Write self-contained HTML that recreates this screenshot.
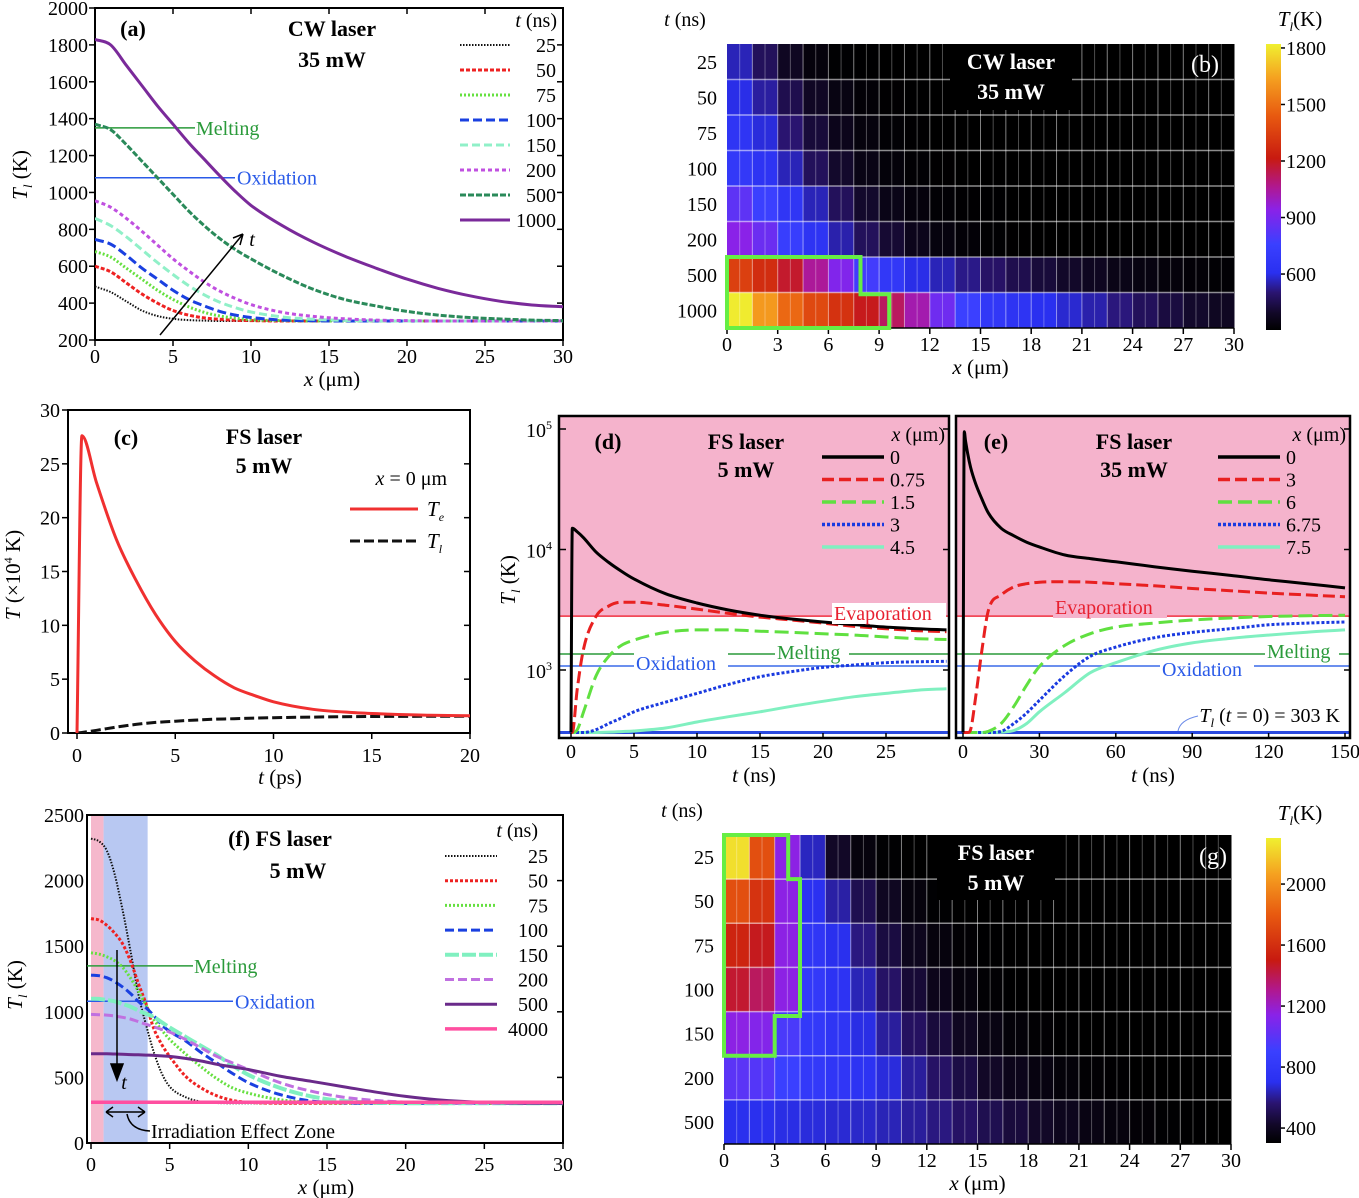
<!DOCTYPE html>
<html><head><meta charset="utf-8"><style>
html,body{margin:0;padding:0;background:#fff;}
svg{display:block;font-family:"Liberation Serif",serif;}
</style></head><body>
<svg id="fig" width="1359" height="1198" viewBox="0 0 1359 1198" xmlns="http://www.w3.org/2000/svg">
<defs>
<linearGradient id="cbar" x1="0" y1="1" x2="0" y2="0">
<stop offset="0" stop-color="#000000"/><stop offset="0.06" stop-color="#120828"/><stop offset="0.13" stop-color="#2a1470"/><stop offset="0.2" stop-color="#2a30f0"/><stop offset="0.3" stop-color="#3a40ff"/><stop offset="0.42" stop-color="#8a22e8"/><stop offset="0.5" stop-color="#b01890"/><stop offset="0.6" stop-color="#c81a10"/><stop offset="0.75" stop-color="#e85a10"/><stop offset="0.88" stop-color="#f5a020"/><stop offset="1" stop-color="#f0f030"/>
</linearGradient>
<clipPath id="clipA"><rect x="95" y="8" width="468" height="332"/></clipPath>
<clipPath id="clipC"><rect x="68" y="410" width="402" height="323"/></clipPath>
<clipPath id="clipD"><rect x="559" y="416" width="390" height="322"/></clipPath>
<clipPath id="clipE"><rect x="956" y="416" width="394" height="322"/></clipPath>
<clipPath id="clipF"><rect x="87" y="815" width="476" height="328"/></clipPath>
</defs>
<rect x="0" y="0" width="1359" height="1198" fill="#fff"/>
<g id="gA"></g>
<g id="gB"></g>
<g id="gC"></g>
<g id="gD"></g>
<g id="gE"></g>
<g id="gF"></g>
<g id="gG"></g>
</svg>
<script>
// ---------- DATA ----------
// Panel (a)
const aX=[0,1,2,3,4,5,6,7,8,9,10,12,14,16,18,20,22,24,26,28,30];
const aTimes=['25','50','75','100','150','200','500','1000'];
const a25=[490,460,410,360,330,315,308,305,303,303,303,303,303,303,303,303,303,303,303,303,303];
const a50=[600,570,510,450,400,360,335,320,312,307,305,303,303,303,303,303,303,303,303,303,303];
const a75=[680,650,590,530,470,420,380,350,330,318,310,305,303,303,303,303,303,303,303,303,303];
const a100=[745,720,660,590,530,470,420,385,355,335,322,308,304,303,303,303,303,303,303,303,303];
const a150=[860,820,760,690,620,555,495,445,405,375,352,325,312,306,304,303,303,303,303,303,303];
const a200=[955,920,860,790,715,640,575,515,465,425,392,350,328,315,308,305,303,303,303,303,303];
const a500=[1370,1340,1260,1170,1080,990,900,820,750,690,640,550,475,420,385,355,335,322,314,308,305];
const a1000=[1830,1800,1690,1580,1470,1370,1270,1180,1090,1005,930,820,730,655,590,530,480,440,410,390,380];
const aYTicks=[200,400,600,800,1000,1200,1400,1600,1800,2000];
const aXTicks=[0,5,10,15,20,25,30];
// Panel (b) heatmap: 20 cells per row (1.5 um wide)
const bRowsLabels=['25','50','75','100','150','200','500','1000'];
const b25=[560,470,380,330,310,305,303,303,303,303,303,303,303,303,303,303,303,303,303,303];
const b50=[600,540,450,385,345,320,308,305,303,303,303,303,303,303,303,303,303,303,303,303];
const b75=[650,590,500,420,365,332,314,307,304,303,303,303,303,303,303,303,303,303,303,303];
const b100=[690,640,560,470,400,350,325,312,306,304,303,303,303,303,303,303,303,303,303,303];
const b150=[840,760,660,560,470,400,355,330,315,308,305,303,303,303,303,303,303,303,303,303];
const b200=[940,870,740,640,550,470,410,365,335,320,310,306,304,303,303,303,303,303,303,303];
const b500=[1350,1280,1180,1050,920,780,680,600,560,520,485,450,420,395,375,355,340,328,320,314];
const b1000=[1810,1620,1480,1380,1300,1200,1120,1020,880,760,680,640,610,580,550,510,470,430,400,380];
const bXTicks=[0,3,6,9,12,15,18,21,24,27,30];
const bCbarTicks=[600,900,1200,1500,1800];
// Panel (c)
const cT=[0,0.25,1,2,3,4,5,6,7,8,9,10,12,14,16,18,20];
const cTe=[0,27.6,23.2,18.0,14.2,11.0,8.5,6.7,5.3,4.2,3.5,2.9,2.2,1.9,1.75,1.65,1.6];
const cTl=[0,0.05,0.25,0.55,0.8,0.98,1.1,1.2,1.28,1.33,1.38,1.42,1.48,1.52,1.54,1.55,1.55];
const cYTicks=[0,5,10,15,20,25,30];
const cXTicks=[0,5,10,15,20];
// Panel (d)
const dT=[0,0.1,0.5,1,2,3,4,5,7.5,10,12.5,15,17.5,20,22.5,25,27.5,29.8];
const d0=[303,15000,14000,12500,9500,7800,6600,5700,4300,3600,3150,2850,2650,2500,2380,2270,2200,2150];
const d075=[303,303,700,1500,2800,3400,3650,3650,3450,3200,2950,2750,2600,2450,2300,2200,2120,2080];
const d15=[303,303,320,450,900,1300,1600,1770,2050,2150,2150,2100,2050,2000,1950,1880,1820,1790];
const d3=[303,303,303,303,320,360,400,450,540,640,760,880,970,1050,1100,1150,1170,1180];
const d45=[303,303,303,303,303,305,308,312,330,370,410,450,500,550,600,640,680,700];
const dXTicks=[0,5,10,15,20,25];
// Panel (e)
const eT=[0,0.5,1,2,3,5,7.5,10,15,20,25,30,40,50,60,75,90,105,120,135,150];
const e0=[303,95000,80000,60000,48000,35000,26000,20000,15000,13000,11500,10500,9000,8400,7900,7200,6600,6100,5600,5200,4800];
const e3=[303,303,303,303,320,600,1500,3150,4200,4900,5200,5350,5400,5350,5200,5000,4750,4550,4350,4200,4050];
const e6=[303,303,303,303,303,303,303,310,360,500,750,1070,1600,2000,2270,2450,2600,2700,2780,2820,2850];
const e675=[303,303,303,303,303,303,303,303,310,360,440,560,900,1300,1550,1850,2050,2200,2370,2450,2500];
const e75=[303,303,303,303,303,303,303,303,305,315,360,450,650,950,1150,1450,1680,1830,1950,2060,2150];
const eXTicks=[0,30,60,90,120,150];
// thresholds (K)
const tEvap=2800, tMelt=1358, tOx=1080, tInit=303;
// Panel (f)
const fX=[0,0.5,1,1.5,2,2.5,3,3.5,4,4.5,5,6,7,8,9,10,12,14,16,18,20,22,25,28,30];
const f25=[2320,2300,2230,2050,1780,1470,1140,900,690,530,430,350,315,305,303,303,303,303,303,303,303,303,303,303,303];
const f50=[1710,1700,1660,1600,1520,1390,1220,1060,870,750,660,510,420,360,325,310,303,303,303,303,303,303,303,303,303];
const f75=[1450,1440,1420,1390,1340,1260,1160,1050,940,860,790,680,580,490,420,380,330,310,305,303,303,303,303,303,303];
const f100=[1280,1275,1260,1230,1190,1140,1080,1030,970,900,850,780,690,610,530,460,370,320,307,303,303,303,303,303,303];
const f150=[1100,1098,1090,1080,1060,1040,1010,985,960,920,880,810,740,670,590,520,420,355,320,308,303,303,303,303,303];
const f200=[980,978,975,968,958,945,925,905,885,865,845,790,725,660,610,560,460,395,350,325,312,305,303,303,303];
const f500=[680,680,680,678,676,674,672,670,668,664,660,645,625,600,580,560,510,470,430,390,355,330,310,304,303];
const f4000=[310,310,310,310,310,310,310,310,310,310,310,310,310,310,310,310,310,310,310,310,310,310,310,310,310];
const fYTicks=[0,500,1000,1500,2000,2500];
const fXTicks=[0,5,10,15,20,25,30];
// Panel (g) heatmap
const gRowsLabels=['25','50','75','100','150','200','500'];
const g25=[2250,1750,1150,650,420,340,310,303,303,303,303,303,303,303,303,303,303,303,303,303];
const g50=[1750,1620,1150,720,620,500,400,340,310,303,303,303,303,303,303,303,303,303,303,303];
const g75=[1550,1480,1150,780,700,580,470,390,340,315,305,303,303,303,303,303,303,303,303,303];
const g100=[1450,1380,1150,820,740,640,540,450,380,340,315,305,303,303,303,303,303,303,303,303];
const g150=[1150,1120,950,820,760,690,610,530,460,400,360,330,315,305,303,303,303,303,303,303];
const g200=[1000,980,900,820,780,740,680,610,540,480,420,380,350,330,315,308,303,303,303,303];
const g500=[700,700,690,680,670,660,640,610,580,540,500,460,420,390,360,340,320,310,305,303];
const gXTicks=[0,3,6,9,12,15,18,21,24,27,30];
const gCbarTicks=[400,800,1200,1600,2000];

// ---------- HELPERS ----------
const NS='http://www.w3.org/2000/svg';
function mk(tag,parent){const e=document.createElementNS(NS,tag);parent.appendChild(e);return e;}
function attrs(e,o){for(const k in o)e.setAttribute(k,o[k]);return e;}
function text(parent,x,y,s,size,anchor,fill,weight,style){
  const t=mk('text',parent);
  attrs(t,{x:x,y:y,'font-size':size,'text-anchor':anchor||'middle',fill:fill||'#000','font-weight':weight||'normal','font-style':style||'normal'});
  t.innerHTML=s;return t;
}
// monotone cubic interpolation path in pixel space
function pathD(xs,ys,sx,sy){
  const P=xs.map((x,i)=>[sx(x),sy(ys[i])]);const n=P.length;
  if(n<3){return 'M'+P.map(p=>p[0].toFixed(1)+' '+p[1].toFixed(1)).join('L');}
  const d=[],m=new Array(n);
  for(let i=0;i<n-1;i++)d.push((P[i+1][1]-P[i][1])/(P[i+1][0]-P[i][0]||1e-6));
  m[0]=d[0];m[n-1]=d[n-2];
  for(let i=1;i<n-1;i++){m[i]=(d[i-1]*d[i]<=0)?0:(d[i-1]+d[i])/2;}
  for(let i=0;i<n-1;i++){if(d[i]===0){m[i]=0;m[i+1]=0;continue;}const a=m[i]/d[i],b=m[i+1]/d[i];const s=a*a+b*b;if(s>9){const t=3/Math.sqrt(s);m[i]=t*a*d[i];m[i+1]=t*b*d[i];}}
  let s='M'+P[0][0].toFixed(1)+' '+P[0][1].toFixed(1);
  for(let i=0;i<n-1;i++){const h=(P[i+1][0]-P[i][0])/3;
    s+='C'+(P[i][0]+h).toFixed(1)+' '+(P[i][1]+m[i]*h).toFixed(1)+' '+(P[i+1][0]-h).toFixed(1)+' '+(P[i+1][1]-m[i+1]*h).toFixed(1)+' '+P[i+1][0].toFixed(1)+' '+P[i+1][1].toFixed(1);}
  return s;
}
const stops=[[0,[0,0,0]],[0.06,[18,8,40]],[0.13,[42,20,112]],[0.2,[42,48,240]],[0.3,[58,64,255]],[0.42,[138,34,232]],[0.5,[176,24,144]],[0.6,[200,26,16]],[0.75,[232,90,16]],[0.88,[245,160,32]],[1,[240,240,48]]];
function cmap(f){f=Math.max(0,Math.min(1,f));for(let i=1;i<stops.length;i++){if(f<=stops[i][0]){const a=stops[i-1],b=stops[i];const u=(f-a[0])/(b[0]-a[0]);const c=a[1].map((v,k)=>Math.round(v+(b[1][k]-v)*u));return 'rgb('+c.join(',')+')';}}return 'rgb(240,240,48)';}

// ---------- PANEL A ----------
(function(){
const g=document.getElementById('gA');
const sx=x=>95+x*(563-95)/30, sy=v=>340-(v-200)*332/1800;
const fr=mk('rect',g);attrs(fr,{x:95,y:8,width:468,height:332,fill:'none',stroke:'#000','stroke-width':2});

aYTicks.forEach(v=>{const t=text(g,88,sy(v)+7,v,20,'end');
 const l=mk('line',g);attrs(l,{x1:95,x2:89,y1:sy(v),y2:sy(v),stroke:'#000','stroke-width':1.5});
 const r=mk('line',g);attrs(r,{x1:563,x2:557,y1:sy(v),y2:sy(v),stroke:'#000','stroke-width':1.5});});
aXTicks.forEach(v=>{const t=text(g,sx(v),363,v,20);
 const l=mk('line',g);attrs(l,{x1:sx(v),x2:sx(v),y1:340,y2:346,stroke:'#000','stroke-width':1.5});
 const u=mk('line',g);attrs(u,{x1:sx(v),x2:sx(v),y1:8,y2:14,stroke:'#000','stroke-width':1.5});});
let t=text(g,332,386,'<tspan font-style="italic">x</tspan> (μm)',21);
t=text(g,0,0,'<tspan font-style="italic">T</tspan><tspan font-size="13" dy="5" font-style="italic">l</tspan><tspan dy="-5"> (K)</tspan>',21);attrs(t,{transform:'translate(27,175) rotate(-90)'});
let l=mk('line',g);attrs(l,{x1:95,x2:195,y1:sy(1350),y2:sy(1350),stroke:'#2a9a3a','stroke-width':1.5});
t=text(g,196,sy(1350)+7,'Melting',20,'start','#2a9a3a');
l=mk('line',g);attrs(l,{x1:95,x2:235,y1:sy(1080),y2:sy(1080),stroke:'#2a5ae8','stroke-width':1.5});
t=text(g,237,sy(1080)+7,'Oxidation',20,'start','#2a5ae8');
const series=[a25,a50,a75,a100,a150,a200,a500,a1000];
const cols=['#111','#ee2222','#66e040','#1a40e0','#90f0c8','#c050e0','#2a8a5a','#7a2a9a'];
const dash=['1.5 1.5','4 2','2 2','9 4','8 4','4 3','6 2','none'];
const wid=[2,3,3,3,3,3,3,3];
const cg=mk('g',g);cg.setAttribute('clip-path','url(#clipA)');
series.forEach((s,i)=>{const p=mk('path',cg);attrs(p,{d:pathD(aX,s,sx,sy),fill:'none',stroke:cols[i],'stroke-width':wid[i],'stroke-dasharray':dash[i]});
 
 const yy=45+i*25;const ll=mk('line',g);attrs(ll,{x1:460,x2:510,y1:yy,y2:yy,stroke:cols[i],'stroke-width':wid[i],'stroke-dasharray':dash[i]});
 
 const lt=text(g,556,yy+7,aTimes[i],20,'end');});
t=text(g,557,27,'<tspan font-style="italic">t</tspan> (ns)',20,'end');
t=text(g,133,36,'(a)',22,'middle','#000','bold');
t=text(g,332,36,'CW laser',22,'middle','#000','bold');
t=text(g,332,67,'35 mW',22,'middle','#000','bold');
const ar=mk('path',g);attrs(ar,{d:'M160 335 L243 234 M243 234 L233 238 M243 234 L240 245',stroke:'#000','stroke-width':1.5,fill:'none'});
t=text(g,252,246,'t',20,'middle','#000','normal','italic');
})();

// ---------- HEATMAP helper ----------
function heat(gid,rows,labels,x0,x1,top,bot,tmin,tmax,xt,cbTicks,cbTop,cbBot,outline,boxX,boxW,boxTop,boxBot,t1,t2,plabel,plx,ply){
const g=document.getElementById(gid);
const sx=x=>x0+x*(x1-x0)/30;const rh=(bot-top)/rows.length;
rows.forEach((r,ri)=>{r.forEach((v,ci)=>{const c=mk('rect',g);attrs(c,{x:sx(ci*1.5),y:top+ri*rh,width:sx(1.5)-sx(0)+0.5,height:rh+0.5,fill:cmap((v-tmin)/(tmax-tmin))});
 });
 const lt=text(g,x0-10,top+ri*rh+rh/2+7,labels[ri],20,'end');});
for(let k=1;k<40;k++){const l=mk('line',g);attrs(l,{x1:sx(k*0.75),x2:sx(k*0.75),y1:top,y2:bot,stroke:'#fff','stroke-opacity':k%2?0.3:0.5,'stroke-width':1});}
for(let k=1;k<rows.length;k++){const l=mk('line',g);attrs(l,{x1:x0,x2:x1,y1:top+k*rh,y2:top+k*rh,stroke:'#fff','stroke-opacity':0.55,'stroke-width':1.5});}
xt.forEach(v=>{const tk=mk('line',g);attrs(tk,{x1:sx(v),x2:sx(v),y1:bot,y2:bot+6,stroke:'#000','stroke-width':1.5});
 const tl=text(g,sx(v),bot+23,v,20);});
const ax=mk('line',g);attrs(ax,{x1:x0,x2:x1,y1:bot,y2:bot,stroke:'#000','stroke-width':1.5});
let t=text(g,(x0+x1)/2,bot+46,'<tspan font-style="italic">x</tspan> (μm)',21);
t=text(g,x0-42,top-18,'<tspan font-style="italic">t</tspan> (ns)',20);
const bx=mk('rect',g);attrs(bx,{x:boxX,y:boxTop,width:boxW,height:boxBot-boxTop,fill:'#000'});
t=text(g,boxX+boxW/2,boxTop+25,t1,22,'middle','#fff','bold');
t=text(g,boxX+boxW/2,boxTop+55,t2,22,'middle','#fff','bold');
t=text(g,plx,ply,plabel,24,'middle','#fff');
const ol=mk('polygon',g);attrs(ol,{points:outline.map(p=>sx(p[0]).toFixed(1)+','+(top+p[1]*rh).toFixed(1)).join(' '),fill:'none',stroke:'#66ee44','stroke-width':4});
const cb=mk('rect',g);attrs(cb,{x:1266,y:cbTop,width:15,height:cbBot-cbTop,fill:'url(#cbar)'});
const cy=v=>cbBot-(v-tmin)/(tmax-tmin)*(cbBot-cbTop);
cbTicks.forEach(v=>{const tk=mk('line',g);attrs(tk,{x1:1281,x2:1285,y1:cy(v),y2:cy(v),stroke:'#000','stroke-width':1.5});
 const tl=text(g,1286,cy(v)+7,v,20,'start');});
t=text(g,1300,cbTop-18,'<tspan font-style="italic">T</tspan><tspan font-size="13" dy="5" font-style="italic">l</tspan><tspan dy="-5">(K)</tspan>',21);
}
heat('gB',[b25,b50,b75,b100,b150,b200,b500,b1000],bRowsLabels,727,1234,44,328,303,1821,bXTicks,bCbarTicks,44,330,
 [[0,6],[7.9,6],[7.9,7.05],[9.6,7.05],[9.6,8],[0,8]],950,122,44,110,'CW laser','35 mW','(b)',1205,72);
heat('gG',[g25,g50,g75,g100,g150,g200,g500],gRowsLabels,724,1231,835,1144,302,2302,gXTicks,gCbarTicks,838,1143,
 [[0,0],[3.8,0],[3.8,1],[4.5,1],[4.5,4.1],[3.0,4.1],[3.0,5],[0,5]],937,118,835,900,'FS laser','5 mW','(g)',1213,864);

// ---------- PANEL C ----------
(function(){
const g=document.getElementById('gC');
const sx=t=>77+t*(470-77)/20, sy=v=>733-v*(733-410)/30;
const fr=mk('rect',g);attrs(fr,{x:68,y:410,width:402,height:323,fill:'none',stroke:'#000','stroke-width':2});
cYTicks.forEach(v=>{const t=text(g,60,sy(v)+7,v,20,'end');
 const l=mk('line',g);attrs(l,{x1:68,x2:62,y1:sy(v),y2:sy(v),stroke:'#000','stroke-width':1.5});
 const r=mk('line',g);attrs(r,{x1:470,x2:464,y1:sy(v),y2:sy(v),stroke:'#000','stroke-width':1.5});});
cXTicks.forEach(v=>{const t=text(g,sx(v),762,v,20);
 const l=mk('line',g);attrs(l,{x1:sx(v),x2:sx(v),y1:733,y2:739,stroke:'#000','stroke-width':1.5});});
let t=text(g,280,784,'<tspan font-style="italic">t</tspan> (ps)',21);
t=text(g,0,0,'<tspan font-style="italic">T</tspan> (×10<tspan font-size="12" dy="-8">4</tspan><tspan dy="8"> K)</tspan>',21);attrs(t,{transform:'translate(20,575) rotate(-90)'});
const cg=mk('g',g);cg.setAttribute('clip-path','url(#clipC)');
let p=mk('path',cg);attrs(p,{d:pathD(cT,cTl,sx,sy),fill:'none',stroke:'#111','stroke-width':3,'stroke-dasharray':'10 4'});
p=mk('path',cg);attrs(p,{d:pathD(cT,cTe,sx,sy),fill:'none',stroke:'#f03030','stroke-width':3});
t=text(g,126,445,'(c)',22,'middle','#000','bold');
t=text(g,264,444,'FS laser',22,'middle','#000','bold');
t=text(g,264,473,'5 mW',22,'middle','#000','bold');
t=text(g,447,485,'<tspan font-style="italic">x</tspan> = 0 μm',20,'end');
let l=mk('line',g);attrs(l,{x1:350,x2:418,y1:509,y2:509,stroke:'#f03030','stroke-width':3});
l=mk('line',g);attrs(l,{x1:350,x2:418,y1:541,y2:541,stroke:'#111','stroke-width':3,'stroke-dasharray':'10 4'});
t=text(g,427,516,'<tspan font-style="italic">T</tspan><tspan font-size="12" dy="5" font-style="italic">e</tspan>',21,'start');
t=text(g,427,548,'<tspan font-style="italic">T</tspan><tspan font-size="12" dy="5" font-style="italic">l</tspan>',21,'start');
})();

// ---------- PANELS D & E ----------
const ly=v=>670-(Math.log10(v)-3)*120.5;
function logPanel(gid,clip,fl,frr,sx,ts,series,names,cols,dash,ticks,plabel,plx,title2,legX,labels,texts){
const g=document.getElementById(gid);
const pk=mk('rect',g);attrs(pk,{x:fl,y:416,width:frr-fl,height:ly(tEvap)-416,fill:'#f5b3cc'});
const cg=mk('g',g);cg.setAttribute('clip-path','url(#'+clip+')');
let l=mk('line',cg);attrs(l,{x1:fl,x2:frr,y1:ly(tEvap),y2:ly(tEvap),stroke:'#f03040','stroke-width':1.5});
l=mk('line',cg);attrs(l,{x1:fl,x2:frr,y1:ly(tMelt),y2:ly(tMelt),stroke:'#2a9a3a','stroke-width':1.5});
l=mk('line',cg);attrs(l,{x1:fl,x2:frr,y1:ly(tOx),y2:ly(tOx),stroke:'#3a6ae8','stroke-width':1.5});
texts.forEach(o=>{const bg=mk('rect',g);attrs(bg,{x:o.x-2,y:o.y-17,width:o.w,height:21,fill:o.bg});
 const tt=text(g,o.x,o.y,o.s,20,'start',o.c);});
l=mk('line',cg);attrs(l,{x1:fl,x2:frr,y1:ly(tInit),y2:ly(tInit),stroke:'#2a4ae0','stroke-width':3});
series.slice().reverse().forEach((s,ri)=>{const i=series.length-1-ri;const p=mk('path',cg);attrs(p,{d:pathD(ts,s,sx,ly),fill:'none',stroke:cols[i],'stroke-width':3,'stroke-dasharray':dash[i]});
 });
names.forEach((n,i)=>{const yy=457+i*22.5;const sw=mk('line',g);attrs(sw,{x1:legX,x2:legX+62,y1:yy,y2:yy,stroke:cols[i],'stroke-width':3.5,'stroke-dasharray':dash[i]});
 
 const lt=text(g,legX+68,yy+7,n,20,'start');});
let t=text(g,frr-4,441,'<tspan font-style="italic">x</tspan> (μm)',20,'end');
ticks.forEach(v=>{const tl=text(g,sx(v),758,v,20);
 const tk=mk('line',g);attrs(tk,{x1:sx(v),x2:sx(v),y1:738,y2:733,stroke:'#000','stroke-width':1.5});});
t=text(g,(fl+frr)/2,782,'<tspan font-style="italic">t</tspan> (ns)',21);
t=text(g,plx,449,plabel,22,'middle','#000','bold');
t=text(g,plx+138,449,'FS laser',22,'middle','#000','bold');
t=text(g,plx+138,477,title2,22,'middle','#000','bold');
[1e5,1e4,1e3].forEach(v=>{const tk=mk('line',g);attrs(tk,{x1:frr,x2:frr-6,y1:ly(v),y2:ly(v),stroke:'#000','stroke-width':1.5});});
const fr=mk('rect',g);attrs(fr,{x:fl,y:416,width:frr-fl,height:322,fill:'none',stroke:'#000','stroke-width':2.5});
}
logPanel('gD','clipD',559,949,t=>571+t*(886-571)/25,dT,[d0,d075,d15,d3,d45],['0','0.75','1.5','3','4.5'],
 ['#000','#e82020','#60e040','#1a3ae0','#80f0c0'],['none','12 5','14 6','3 2','none'],dXTicks,'(d)',608,'5 mW',822,[],
 [{x:834,y:620,s:'Evaporation',c:'#e82030',w:114,bg:'#fff',n:'evaporation-label'},{x:777,y:659,s:'Melting',c:'#2a9a3a',w:74,bg:'#fff',n:'melting-label'},{x:636,y:670,s:'Oxidation',c:'#2a5ae8',w:94,bg:'#fff',n:'oxidation-label'}]);
logPanel('gE','clipE',956,1350,t=>963+t*(1345-963)/150,eT,[e0,e3,e6,e675,e75],['0','3','6','6.75','7.5'],
 ['#000','#e82020','#60e040','#1a3ae0','#80f0c0'],['none','12 5','14 6','3 2','none'],eXTicks,'(e)',996,'35 mW',1218,[],
 [{x:1055,y:614,s:'Evaporation',c:'#e82030',w:114,bg:'#f5b3cc',n:'evaporation-label'},{x:1267,y:658,s:'Melting',c:'#2a9a3a',w:74,bg:'#fff',n:'melting-label'},{x:1162,y:676,s:'Oxidation',c:'#2a5ae8',w:94,bg:'#fff',n:'oxidation-label'}]);
(function(){
const g=document.getElementById('gD');
[[1e5,'10<tspan font-size="12" dy="-8">5</tspan>'],[1e4,'10<tspan font-size="12" dy="-8">4</tspan>'],[1e3,'10<tspan font-size="12" dy="-8">3</tspan>']].forEach(a=>{
 const t=text(g,552,ly(a[0])+8,a[1],20,'end');
 const l=mk('line',g);attrs(l,{x1:559,x2:566,y1:ly(a[0]),y2:ly(a[0]),stroke:'#000','stroke-width':1.5});});
const t=text(g,0,0,'<tspan font-style="italic">T</tspan><tspan font-size="13" dy="5" font-style="italic">l</tspan><tspan dy="-5"> (K)</tspan>',21);attrs(t,{transform:'translate(515,580) rotate(-90)'});
const ge=document.getElementById('gE');
const tt=text(ge,1340,722,'<tspan font-style="italic">T</tspan><tspan font-size="13" dy="5" font-style="italic">l</tspan><tspan dy="-5"> (</tspan><tspan font-style="italic">t</tspan> = 0) = 303 K',20,'end');
const ld=mk('path',ge);attrs(ld,{d:'M1198 716 Q1180 720 1178 731',fill:'none',stroke:'#6a8ae8','stroke-width':1});
})();

// ---------- PANEL F ----------
(function(){
const g=document.getElementById('gF');
const sx=x=>91+x*(563-91)/30, sy=v=>1143-v*(1143-815)/2500;
let r=mk('rect',g);attrs(r,{x:sx(0),y:815,width:sx(0.8)-sx(0),height:328,fill:'#f5b8cc'});
r=mk('rect',g);attrs(r,{x:sx(0.8),y:815,width:sx(3.6)-sx(0.8),height:328,fill:'#b8c8f2'});
const fr=mk('rect',g);attrs(fr,{x:87,y:815,width:476,height:328,fill:'none',stroke:'#000','stroke-width':2});
fYTicks.forEach(v=>{const t=text(g,84,sy(v)+7,v,20,'end');
 const l=mk('line',g);attrs(l,{x1:563,x2:557,y1:sy(v),y2:sy(v),stroke:'#000','stroke-width':1.5});});
fXTicks.forEach(v=>{const t=text(g,sx(v),1171,v,20);
 const l=mk('line',g);attrs(l,{x1:sx(v),x2:sx(v),y1:1143,y2:1149,stroke:'#000','stroke-width':1.5});});
let t=text(g,326,1194,'<tspan font-style="italic">x</tspan> (μm)',21);
t=text(g,0,0,'<tspan font-style="italic">T</tspan><tspan font-size="13" dy="5" font-style="italic">l</tspan><tspan dy="-5"> (K)</tspan>',21);attrs(t,{transform:'translate(22,985) rotate(-90)'});
let l=mk('line',g);attrs(l,{x1:87,x2:193,y1:sy(1350),y2:sy(1350),stroke:'#2a9a3a','stroke-width':1.5});
t=text(g,194,sy(1350)+7,'Melting',20,'start','#2a9a3a');
l=mk('line',g);attrs(l,{x1:87,x2:233,y1:sy(1080),y2:sy(1080),stroke:'#2a5ae8','stroke-width':1.5});
t=text(g,235,sy(1080)+7,'Oxidation',20,'start','#2a5ae8');
const series=[f25,f50,f75,f100,f150,f200,f500,f4000];
const names=['25','50','75','100','150','200','500','4000'];
const cols=['#111','#ee2222','#66e040','#1a40e0','#80f0c0','#c070e0','#6a2a8a','#ff4fa0'];
const dash=['1.5 1.5','3 2','2 2','9 4','14 3','9 4','none','none'];
const wid=[2,3,3,3,4,3,3,3.5];
const cg=mk('g',g);cg.setAttribute('clip-path','url(#clipF)');
series.forEach((s,i)=>{const p=mk('path',cg);attrs(p,{d:pathD(fX,s,sx,sy),fill:'none',stroke:cols[i],'stroke-width':wid[i],'stroke-dasharray':dash[i]});
 
 const yy=856+i*24.7;const ll=mk('line',g);attrs(ll,{x1:445,x2:497,y1:yy,y2:yy,stroke:cols[i],'stroke-width':wid[i],'stroke-dasharray':dash[i]});
 
 const lt=text(g,548,yy+7,names[i],20,'end');});
t=text(g,538,837,'<tspan font-style="italic">t</tspan> (ns)',20,'end');
t=text(g,280,846,'(f)  FS laser',22,'middle','#000','bold');
t=text(g,298,878,'5 mW',22,'middle','#000','bold');
const ar=mk('path',g);attrs(ar,{d:'M117 950 L117 1078 M111 1064 L117 1080 L123 1064 Z',stroke:'#000','stroke-width':1.5,fill:'#000'});
t=text(g,124,1089,'t',20,'middle','#000','normal','italic');
const da=mk('path',g);attrs(da,{d:'M106 1112 L145 1112 M106 1112 L113 1107 M106 1112 L113 1117 M145 1112 L138 1107 M145 1112 L138 1117 M127 1114 Q130 1130 150 1131',stroke:'#000','stroke-width':1.5,fill:'none'});
t=text(g,151,1138,'Irradiation Effect Zone',20,'start');
})();
</script>
</body></html>
